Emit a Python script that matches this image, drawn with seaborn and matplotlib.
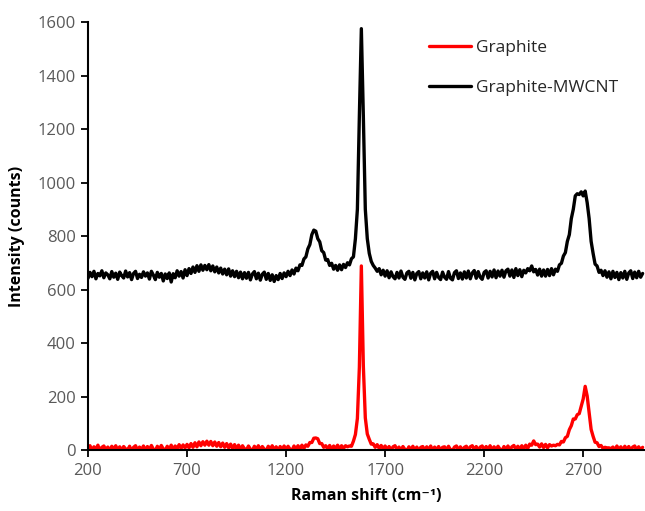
import numpy as np
import pandas as pd
import matplotlib
matplotlib.use("Agg")
import matplotlib.pyplot as plt
import seaborn as sns

# Raman shift grid (cm^-1), 10 cm^-1 steps
shift = np.arange(200, 3001, 10)

# Graphite spectrum (counts)
graphite = [
    2, 16, -2, 12, 3, 18, -3, 10, 15, 0,          # 200-290
    11, -4, 14, 2, 16, -1, 12, -3, 13, 4,         # 300-390
    0, 14, -5, 10, 16, -2, 11, 1, 15, -3,         # 400-490
    13, 0, 17, 3, -3, 14, 1, 17, 4, -1,           # 500-590
    14, 2, 18, 0, 15, 5, 20, 6, 19, 8,            # 600-690
    21, 8, 24, 10, 27, 12, 30, 16, 31, 18,        # 700-790
    33, 18, 32, 16, 30, 14, 28, 12, 26, 10,       # 800-890
    24, 8, 22, 5, 20, 3, 18, 1, 16, 4,            # 900-990
    0, 15, 3, -2, 14, 2, 16, -1, 13, 3,           # 1000-1090
    -2, 14, 2, 16, -1, 12, -3, 13, 2, 15,         # 1100-1190
    1, 14, 3, -1, 15, 2, 16, 4, 18, 6,            # 1200-1290
    19, 14, 28, 28, 44, 45, 42, 24, 24, 10,       # 1300-1390
    16, 4, 17, 2, 15, 5, 18, 3, 16, 6,            # 1400-1490
    16, 12, 15, 14, 33, 58, 118, 310, 688, 315,   # 1500-1590
    120, 60, 40, 22, 23, 10, 20, 6, 17, 4,        # 1600-1690
    15, 1, 13, -1, 12, 16, 0, 11, -2, 13,         # 1700-1790
    2, -3, 12, 0, 14, -1, 11, -4, 10, 13,         # 1800-1890
    -1, 12, 1, 15, -2, 11, 0, 13, -3, 10,         # 1900-1990
    12, -1, 14, 1, -3, 11, 15, 0, 12, -2,         # 2000-2090
    10, 14, -1, 12, 16, 1, 13, -2, 11, 15,        # 2100-2190
    0, 13, 2, 16, -1, 12, 1, 14, 3, -2,           # 2200-2290
    13, 1, 15, 0, 12, 17, 2, 14, 3, 16,           # 2300-2390
    4, 18, 6, 22, 18, 34, 20, 22, 11, 23,         # 2400-2490
    9, 21, 8, 20, 15, 18, 16, 21, 19, 32,         # 2500-2590
    30, 46, 51, 76, 91, 116, 116, 132, 136, 164,  # 2600-2690
    191, 238, 202, 138, 77, 51, 29, 27, 13, 17,   # 2700-2790
    6, 10, 8, 8, 5, 11, -1, 15, 1, 12,            # 2800-2890
    -2, 14, 2, 13, -1, 11, 15, 0, 12, 1,          # 2900-2990
    10,                                           # 3000
]

# Graphite-MWCNT spectrum (counts)
graphite_mwcnt = [
    642, 664, 648, 668, 640, 660, 651, 670, 644, 662,       # 200-290
    655, 640, 667, 646, 661, 638, 665, 652, 643, 669,       # 300-390
    647, 663, 637, 660, 668, 641, 657, 645, 666, 650,       # 400-490
    662, 639, 668, 654, 637, 664, 646, 660, 632, 658,       # 500-590
    641, 662, 628, 659, 644, 670, 650, 667, 643, 674,       # 600-690
    652, 678, 660, 684, 664, 689, 668, 692, 672, 690,       # 700-790
    674, 693, 670, 688, 666, 684, 662, 680, 658, 676,       # 800-890
    655, 677, 650, 670, 648, 668, 644, 665, 640, 663,       # 900-990
    642, 664, 636, 658, 667, 640, 661, 635, 657, 665,       # 1000-1090
    638, 660, 634, 655, 630, 652, 637, 660, 641, 662,       # 1100-1190
    648, 668, 652, 673, 658, 680, 670, 692, 690, 714,       # 1200-1290
    722, 752, 768, 805, 822, 818, 790, 778, 745, 738,       # 1300-1390
    710, 712, 690, 698, 676, 690, 672, 692, 674, 694,       # 1400-1490
    682, 700, 692, 715, 722, 790, 900, 1250, 1575, 1250,    # 1500-1590
    900, 790, 735, 705, 690, 680, 668, 678, 655, 672,       # 1600-1690
    650, 670, 644, 666, 648, 640, 664, 643, 669, 646,       # 1700-1790
    638, 662, 668, 642, 664, 636, 660, 667, 640, 662,       # 1800-1890
    643, 666, 636, 661, 668, 640, 664, 645, 637, 665,       # 1900-1990
    646, 638, 667, 642, 636, 663, 670, 641, 662, 639,       # 2000-2090
    666, 643, 669, 640, 662, 671, 642, 667, 646, 638,       # 2100-2190
    664, 670, 643, 668, 647, 673, 644, 669, 650, 672,       # 2200-2290
    646, 670, 676, 650, 673, 645, 678, 652, 674, 648,       # 2300-2390
    672, 662, 678, 670, 688, 666, 675, 654, 676, 650,       # 2400-2490
    673, 650, 675, 652, 678, 655, 676, 668, 692, 698,       # 2500-2590
    725, 738, 780, 805, 865, 900, 950, 958, 955, 965,       # 2600-2690
    950, 968, 925, 865, 780, 735, 695, 688, 664, 672,       # 2700-2790
    652, 670, 646, 666, 640, 668, 645, 664, 637, 663,       # 2800-2890
    643, 668, 638, 662, 670, 641, 665, 644, 668, 646,       # 2900-2990
    660,                                                    # 3000
]

series_names = ["Graphite", "Graphite-MWCNT"]
series_colors = ["#ff0000", "#000000"]
x_ticks = [200, 700, 1200, 1700, 2200, 2700]
y_ticks = [0, 200, 400, 600, 800, 1000, 1200, 1400, 1600]

df = pd.DataFrame({
    "shift": np.concatenate([shift, shift]),
    "intensity": np.concatenate([graphite, graphite_mwcnt]),
    "sample": [series_names[0]] * len(shift) + [series_names[1]] * len(shift),
})

sns.set_style("ticks")
plt.rcParams["font.family"] = ["Open Sans", "DejaVu Sans"]

fig = plt.figure(figsize=(6.45, 5.11), dpi=100)
W, H = 645, 511
ax = fig.add_axes([88 / W, (H - 450) / H, (W - 88) / W, (450 - 22) / H])

sns.lineplot(
    data=df, x="shift", y="intensity", hue="sample",
    hue_order=series_names, palette=series_colors,
    linewidth=2.4, ax=ax, estimator=None, sort=False,
)

ax.set_xlim(200, 3012)
ax.set_ylim(0, 1600)
ax.set_xticks(x_ticks)
ax.set_yticks(y_ticks)
ax.tick_params(axis="both", direction="out", length=5, width=1.3,
               color="black", labelsize=12, labelcolor="#595959", pad=4)

for side in ["top", "right"]:
    ax.spines[side].set_visible(False)
for side in ["left", "bottom"]:
    ax.spines[side].set_linewidth(1.5)
    ax.spines[side].set_color("black")

ax.set_xlabel("Raman shift (cm\u207b\u00b9)", fontsize=11.5, fontweight="bold",
              color="black", labelpad=7)
ax.set_ylabel("Intensity (counts)", fontsize=11.5, fontweight="bold",
              color="black", labelpad=9)

leg = ax.legend(
    loc="upper left", bbox_to_anchor=(429 / W, (H - 40) / H),
    bbox_transform=fig.transFigure, frameon=False, fontsize=12.5,
    handlelength=2.4, handletextpad=0.3, labelspacing=1.35,
    borderpad=0, borderaxespad=0,
)
for t in leg.get_texts():
    t.set_color("#262626")
for h in leg.get_lines():
    h.set_linewidth(2.4)

fig.savefig("out.png", dpi=100)
